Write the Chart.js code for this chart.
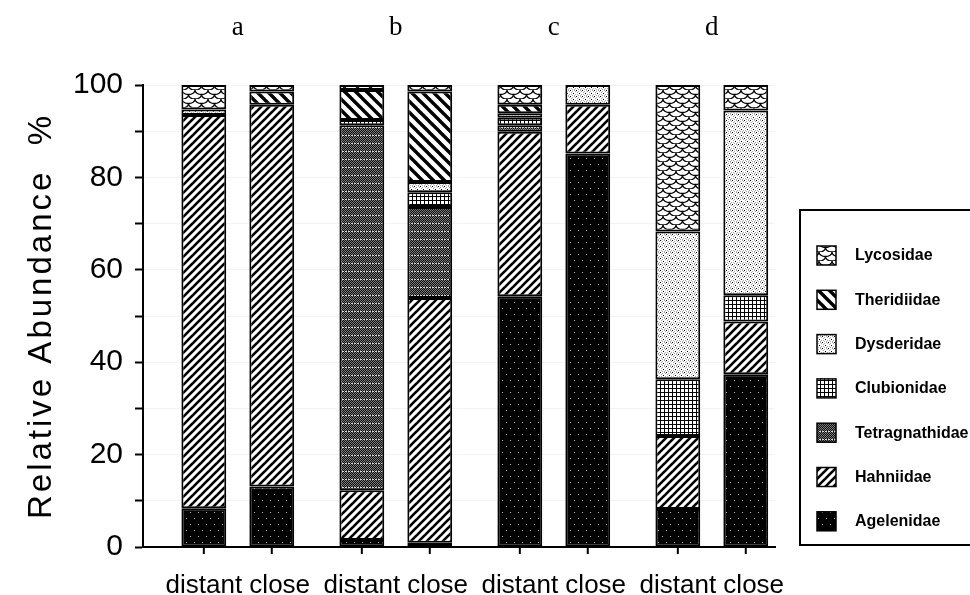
<!DOCTYPE html>
<html>
<head>
<meta charset="utf-8">
<title>Relative abundance by family</title>
<script src="https://cdn.jsdelivr.net/npm/chart.js@4.4.1/dist/chart.umd.min.js"></script>
<style>
  html, body { margin: 0; padding: 0; background: #fff; }
  #wrap { width: 970px; height: 595px; }
</style>
</head>
<body>
<div id="wrap"><canvas id="chart" width="970" height="595"></canvas></div>
<script>
const groups = ["a", "b", "c", "d"];
const sites = ["distant", "close"];
const families = ["Agelenidae", "Hahniidae", "Tetragnathidae", "Clubionidae", "Dysderidae", "Theridiidae", "Lycosidae"];
const yTicks = [0, 20, 40, 60, 80, 100];
const yTitle = "Relative Abundance  %";

// percent of each bar, order: a distant, a close, b distant, b close, c ..., d ...
const agelenidae     = [8.4, 13.1, 1.5, 0.9, 54.3, 85.2, 8.2, 37.4];
const hahniidae      = [85.1, 82.6, 10.8, 53.0, 35.6, 10.5, 15.8, 11.4];
const tetragnathidae = [0, 0, 79.0, 19.7, 1.4, 0, 0, 0];
const clubionidae    = [0, 0, 1.1, 3.2, 1.6, 0, 12.3, 5.7];
const dysderidae     = [1.2, 0, 0, 2.2, 1.0, 4.3, 32.0, 40.0];
const theridiidae    = [0, 2.9, 6.5, 19.6, 1.8, 0, 0, 0];
const lycosidae      = [5.3, 1.4, 1.1, 1.4, 4.3, 0, 31.7, 5.5];

const shares = [agelenidae, hahniidae, tetragnathidae, clubionidae, dysderidae, theridiidae, lycosidae];

const SANS = "'Liberation Sans', Arial, sans-serif";

// small repeating tiles used as hatch fills
const scratch = document.createElement("canvas").getContext("2d");
function tile(w, h, paint) {
  const c = document.createElement("canvas");
  c.width = w;
  c.height = h;
  const g = c.getContext("2d");
  g.fillStyle = "#fff";
  g.fillRect(0, 0, w, h);
  paint(g, w, h);
  return scratch.createPattern(c, "repeat");
}

function stripes(size, width, forward) {
  return tile(size, size, (g) => {
    g.strokeStyle = "#000";
    g.lineWidth = width;
    for (const k of [-size, 0, size]) {
      g.beginPath();
      if (forward) {
        g.moveTo(k - 1, size + 1);
        g.lineTo(k + size + 1, -1);
      } else {
        g.moveTo(k - 1, -1);
        g.lineTo(k + size + 1, size + 1);
      }
      g.stroke();
    }
  });
}

const fills = [
  // black with sparse light dots
  tile(8, 12, (g) => {
    g.fillStyle = "#000";
    g.fillRect(0, 0, 8, 12);
    g.fillStyle = "#b8b8b8";
    g.fillRect(2, 2, 1, 1);
    g.fillRect(6, 8, 1, 1);
  }),
  stripes(8, 2.6, true),
  // dark mesh
  tile(6, 8, (g) => {
    g.fillStyle = "#111";
    g.fillRect(0, 0, 6, 8);
    g.fillStyle = "#777";
    for (let y = 0; y < 7; y++) {
      for (let x = 0; x < 6; x++) {
        if ((x + y) % 2 === 0) g.fillRect(x, y, 1, 1);
      }
    }
    g.fillStyle = "#d8d8d8";
    g.fillRect(0, 7, 2, 1);
    g.fillRect(3, 7, 2, 1);
  }),
  // square grid
  tile(4, 4, (g) => {
    g.fillStyle = "#000";
    g.fillRect(0, 0, 4, 1);
    g.fillRect(0, 0, 1, 4);
  }),
  // light stipple
  tile(6, 6, (g) => {
    g.fillStyle = "#000";
    g.fillRect(0, 0, 1, 1);
    g.fillRect(3, 3, 1, 1);
    g.fillStyle = "#aaa";
    g.fillRect(2, 1, 1, 1);
    g.fillRect(5, 4, 1, 1);
    g.fillRect(1, 4, 1, 1);
    g.fillRect(4, 0, 1, 1);
    g.fillRect(1, 2, 1, 1);
    g.fillRect(4, 5, 1, 1);
    g.fillRect(5, 1, 1, 1);
    g.fillRect(2, 5, 1, 1);
  }),
  stripes(11, 3.4, false),
  // fish scales
  tile(13, 9, (g) => {
    g.strokeStyle = "#000";
    g.lineWidth = 1.3;
    for (const [cx, cy] of [[6.5, 0], [0, 4.5], [13, 4.5]]) {
      g.beginPath();
      g.ellipse(cx, cy, 6.5, 4.5, 0, 0, Math.PI);
      g.stroke();
    }
  }),
];

const datasets = [];
families.forEach((name, f) => {
  sites.forEach((site, s) => {
    datasets.push({
      label: name,
      stack: site,
      xAxisID: "x",
      backgroundColor: fills[f],
      data: groups.map((g, i) => ({ x: i, y: shares[f][i * 2 + s] })),
    });
  });
});

const fixTicks = (scale) => {
  scale.ticks = groups.map((g, i) => ({ value: i }));
};

// small marks under each bar on the x axis
const barTicks = {
  id: "barTicks",
  afterDatasetsDraw(chart) {
    const { ctx, chartArea } = chart;
    ctx.save();
    ctx.strokeStyle = "#000";
    ctx.lineWidth = 2;
    [0, 1].forEach((d) => {
      chart.getDatasetMeta(d).data.forEach((bar) => {
        ctx.beginPath();
        ctx.moveTo(bar.x, chartArea.bottom);
        ctx.lineTo(bar.x, chartArea.bottom + 7);
        ctx.stroke();
      });
    });
    ctx.restore();
  },
};

// rotated y title, drawn with a little letter spacing
const yTitleText = {
  id: "yTitleText",
  afterDraw(chart) {
    const { ctx, chartArea } = chart;
    ctx.save();
    ctx.translate(42, (chartArea.top + chartArea.bottom) / 2);
    ctx.rotate(-Math.PI / 2);
    ctx.font = "33px " + SANS;
    ctx.letterSpacing = "3px";
    ctx.fillStyle = "#000";
    ctx.textAlign = "center";
    ctx.textBaseline = "middle";
    ctx.fillText(yTitle, 0, 0);
    ctx.restore();
  },
};

// framed legend on the right, top entry = top of the stack
const boxLegend = {
  id: "boxLegend",
  afterDraw(chart) {
    const { ctx, chartArea } = chart;
    const left = chartArea.right + 25;
    const top = 210;
    const bottom = 545;
    ctx.save();
    ctx.lineWidth = 2;
    ctx.strokeStyle = "#000";
    ctx.strokeRect(left, top, chart.width - left + 10, bottom - top);
    ctx.font = "bold 16px " + SANS;
    ctx.textBaseline = "middle";
    const order = families.map((n, i) => i).reverse();
    order.forEach((f, k) => {
      const y = top + 46 + k * 44.3;
      ctx.fillStyle = fills[f];
      ctx.fillRect(left + 17, y - 10, 19, 19);
      ctx.lineWidth = 1.5;
      ctx.strokeRect(left + 17, y - 10, 19, 19);
      ctx.fillStyle = "#000";
      ctx.fillText(families[f], left + 55, y);
    });
    ctx.restore();
  },
};

new Chart(document.getElementById("chart"), {
  type: "bar",
  data: { datasets },
  plugins: [barTicks, yTitleText, boxLegend],
  options: {
    responsive: false,
    animation: false,
    devicePixelRatio: 1,
    layout: { padding: { left: 0, top: 0, right: 195, bottom: 0 } },
    datasets: {
      bar: {
        borderColor: "#000",
        borderWidth: 2,
        borderSkipped: false,
        categoryPercentage: 0.86,
        barPercentage: 0.66,
      },
    },
    plugins: {
      legend: { display: false },
      tooltip: { enabled: false },
    },
    scales: {
      x: {
        type: "linear",
        position: "bottom",
        min: -0.6,
        max: 3.4,
        offset: false,
        afterBuildTicks: fixTicks,
        afterFit: (s) => { s.height = 48; },
        ticks: {
          callback: () => sites.join(" "),
          color: "#000",
          font: { family: SANS, size: 26 },
          padding: 23,
          autoSkip: false,
          maxRotation: 0,
        },
        grid: { display: false, drawTicks: false },
        border: { color: "#000", width: 2 },
      },
      xTop: {
        type: "linear",
        position: "top",
        min: -0.6,
        max: 3.4,
        offset: false,
        afterBuildTicks: fixTicks,
        afterFit: (s) => { s.height = 85; },
        ticks: {
          callback: (v, i) => groups[i],
          color: "#000",
          font: { family: "'Liberation Serif', 'Times New Roman', serif", size: 27 },
          padding: 41,
          autoSkip: false,
          maxRotation: 0,
        },
        grid: { display: false, drawTicks: false },
        border: { display: false },
      },
      y: {
        min: 0,
        max: 100,
        stacked: true,
        afterFit: (s) => { s.width = 143; },
        ticks: {
          stepSize: 10,
          autoSkip: false,
          callback: (v) => (yTicks.includes(v) ? v : ""),
          color: "#000",
          font: { family: SANS, size: 30 },
          padding: 12,
        },
        grid: { color: "#f3f3f3", tickColor: "#000", tickLength: 8, tickWidth: 2 },
        border: { color: "#000", width: 2 },
      },
    },
  },
});
</script>
</body>
</html>
